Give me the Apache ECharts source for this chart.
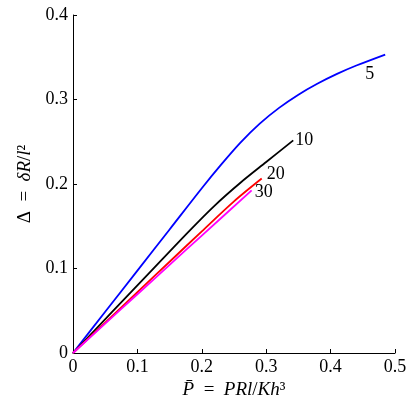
<!DOCTYPE html>
<html>
<head>
<meta charset="utf-8">
<script src="https://cdn.jsdelivr.net/npm/echarts@6/dist/echarts.min.js"></script>
<style>html,body{margin:0;padding:0;background:#fff}#c{width:415px;height:415px}</style>
</head>
<body>
<div id="c"></div>
<script>
// Series data (P-bar, Delta)
const seriesNames = ['5', '10', '20', '30'];
const p5  = [0, 0.05, 0.10, 0.15, 0.20, 0.23, 0.26, 0.29, 0.32, 0.35, 0.38, 0.41, 0.44, 0.4848];
const d5  = [0, 0.0488, 0.0975, 0.1462, 0.195, 0.2229, 0.249, 0.2715, 0.2901, 0.3057, 0.3189, 0.3303, 0.3402, 0.3532];
const p10 = [0, 0.06, 0.12, 0.18, 0.22, 0.26, 0.30, 0.342];
const d10 = [0, 0.048, 0.096, 0.144, 0.1745, 0.2015, 0.226, 0.2516];
const p20 = [0, 0.05, 0.10, 0.15, 0.20, 0.25, 0.293];
const d20 = [0, 0.036, 0.072, 0.108, 0.144, 0.1795, 0.2065];
const p30 = [0, 0.05, 0.10, 0.15, 0.20, 0.2774];
const d30 = [0, 0.0348, 0.0695, 0.1043, 0.139, 0.1925];
const xTicks = [0, 0.1, 0.2, 0.3, 0.4, 0.5];
const yTicks = [0, 0.1, 0.2, 0.3, 0.4];

const colors = ['#0000ff', '#000000', '#ff0000', '#ff00ff'];
const labelOffsets = [[-20, 20], [2, 0], [5, -4], [3, 2]];
const zip = (a, b) => a.map((v, i) => [v, b[i]]);
const xs = [p5, p10, p20, p30], ys = [d5, d10, d20, d30];
const fmt = v => (v === 0 ? '0' : String(v));
const serif = 'Liberation Serif';

const chart = echarts.init(document.getElementById('c'));
chart.setOption({
  animation: false,
  backgroundColor: '#fff',
  grid: { left: 73, right: 20, top: 15, bottom: 62 },
  xAxis: {
    type: 'value', min: xTicks[0], max: xTicks[xTicks.length - 1], interval: 0.1,
    splitLine: { show: false },
    axisLine: { lineStyle: { color: '#000', width: 1 } },
    axisTick: { inside: true, length: 4, lineStyle: { color: '#000' } },
    axisLabel: { color: '#000', fontFamily: serif, fontSize: 18, margin: 5, formatter: fmt },
    name: '{i|P\u0304}  =  {i|PRl}/{i|Kh}³',
    nameLocation: 'middle', nameGap: 24,
    nameTextStyle: { color: '#000', fontFamily: serif, fontSize: 19,
      rich: { i: { fontStyle: 'italic', fontFamily: serif, fontSize: 19, color: '#000' } } }
  },
  yAxis: {
    type: 'value', min: yTicks[0], max: yTicks[yTicks.length - 1], interval: 0.1,
    splitLine: { show: false },
    axisLine: { lineStyle: { color: '#000', width: 1 } },
    axisTick: { inside: true, length: 4, lineStyle: { color: '#000' } },
    axisLabel: { color: '#000', fontFamily: serif, fontSize: 18, margin: 5, formatter: fmt },
    name: 'Δ  =  {i|δR}/{i|l}²',
    nameLocation: 'middle', nameGap: 36,
    nameTextStyle: { color: '#000', fontFamily: serif, fontSize: 19,
      rich: { i: { fontStyle: 'italic', fontFamily: serif, fontSize: 19, color: '#000' } } }
  },
  series: seriesNames.map((n, k) => ({
    name: n, type: 'line', data: zip(xs[k], ys[k]), smooth: 0.3, symbol: 'none',
    lineStyle: { color: colors[k], width: 1.8 },
    endLabel: { show: true, formatter: n, distance: 0, offset: labelOffsets[k],
      color: '#000', fontFamily: serif, fontSize: 18 }
  }))
});
</script>
</body>
</html>
